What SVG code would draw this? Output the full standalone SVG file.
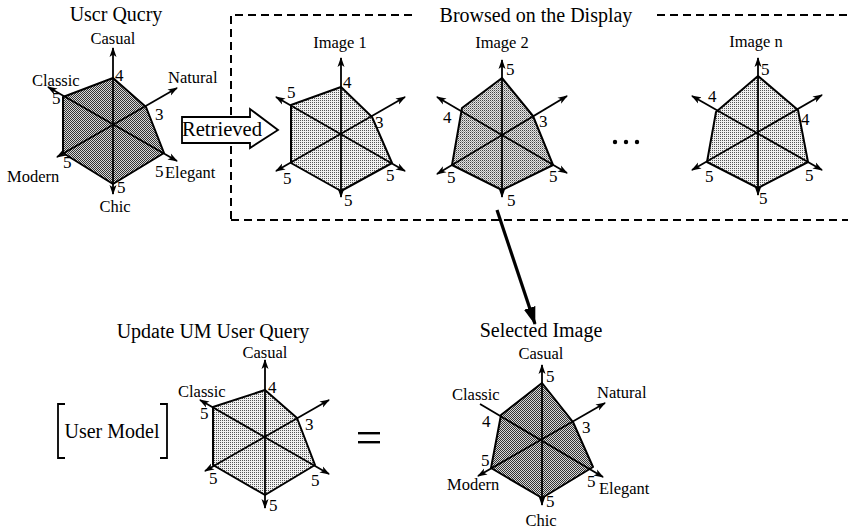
<svg xmlns="http://www.w3.org/2000/svg" width="848" height="531" viewBox="0 0 848 531" font-family="'Liberation Serif','DejaVu Serif','Times New Roman',serif">
<style>
text{font-family:'Liberation Serif','DejaVu Serif','Times New Roman',serif;fill:#000}
.t{font-size:20px}
.l{font-size:16.5px}
.n{font-size:17px}
.ax{stroke:#000;stroke-width:1.8;fill:none;marker-start:url(#ah);marker-end:url(#ah)}
.axe{stroke:#000;stroke-width:1.8;fill:none;marker-end:url(#ah)}
.pg{stroke:#000;stroke-width:2;stroke-linejoin:round}
.dk{fill:url(#pDark)}
.lt{fill:url(#pLight)}
.md{fill:url(#pMed)}
.dash{stroke:#000;stroke-width:2;stroke-dasharray:8 5;fill:none}
</style>
<defs>
<marker id="ah" markerUnits="userSpaceOnUse" markerWidth="10" markerHeight="8" refX="9" refY="4" orient="auto-start-reverse">
<path d="M0,0.5 L10,4 L0,7.5 L2.5,4 z" fill="#000"/>
</marker>
<marker id="bigah" markerUnits="userSpaceOnUse" markerWidth="18" markerHeight="14" refX="17" refY="7" orient="auto">
<path d="M0,1 L18,7 L0,13 z" fill="#000"/>
</marker>
<pattern id="pDark" width="2" height="2" patternUnits="userSpaceOnUse">
<rect width="2" height="2" fill="#d8d8d8"/>
<rect width="1" height="1" fill="#333"/>
<rect x="1" y="1" width="1" height="1" fill="#333"/>
</pattern>
<pattern id="pLight" width="2" height="2" patternUnits="userSpaceOnUse">
<rect width="2" height="2" fill="#f0f0f0"/>
<rect width="1" height="1" fill="#555"/>
</pattern>
<pattern id="pMed" width="2" height="2" patternUnits="userSpaceOnUse">
<rect width="2" height="2" fill="#e4e4e4"/>
<rect width="1" height="1" fill="#444"/>
<rect x="1" y="1" width="1" height="1" fill="#9a9a9a"/>
</pattern>
</defs>
<rect width="848" height="531" fill="#fff"/>

<g id="browse-box">
<path class="dash" d="M231,219 L231,15 L415,15"/>
<path class="dash" d="M657,15 L848,15"/>
<path class="dash" d="M231,220 L848,220"/>
<text class="t" x="536" y="22" text-anchor="middle">Browsed on the Display</text>
</g>

<g id="user-query">
<text class="t" x="116" y="21" text-anchor="middle">Uscr Qucry</text>
<polygon class="pg dk" points="113,78 146,107 164,153 113,184 63,153 63,97"/>
<line class="ax" x1="113" y1="48" x2="113" y2="194"/>
<line class="ax" x1="177" y1="88" x2="57" y2="157"/>
<line class="ax" x1="48" y1="87" x2="177" y2="161"/>
<text class="l" x="113" y="44" text-anchor="middle">Casual</text>
<text class="l" x="168" y="83">Natural</text>
<text class="l" x="32" y="86">Classic</text>
<text class="l" x="7" y="182">Modern</text>
<text class="l" x="165" y="178">Elegant</text>
<text class="l" x="115" y="212" text-anchor="middle">Chic</text>
<text class="n" x="115" y="81">4</text>
<text class="n" x="52" y="104">5</text>
<text class="n" x="155" y="120">3</text>
<text class="n" x="63" y="168">5</text>
<text class="n" x="155" y="177">5</text>
<text class="n" x="117" y="193">5</text>
</g>

<g id="retrieved">
<path d="M182,117 L250,117 L250,109 L278,130 L250,148 L250,143 L182,143 z" fill="#fff" stroke="#000" stroke-width="1.8" stroke-linejoin="miter"/>
<text class="t" x="182" y="136" textLength="80" lengthAdjust="spacingAndGlyphs">Retrieved</text>
</g>

<g id="image-1">
<text class="l" x="340" y="48" text-anchor="middle">Image 1</text>
<polygon class="pg lt" points="341,87 372,117 392,163 341,191 291,163 291,105"/>
<line class="ax" x1="341" y1="58" x2="341" y2="197"/>
<line class="ax" x1="405" y1="97" x2="276" y2="171"/>
<line class="ax" x1="276" y1="97" x2="405" y2="171"/>
<text class="n" x="343" y="88">4</text>
<text class="n" x="287" y="98">5</text>
<text class="n" x="375" y="128">3</text>
<text class="n" x="386" y="181">5</text>
<text class="n" x="283" y="184">5</text>
<text class="n" x="344" y="206">5</text>
</g>

<g id="image-2">
<text class="l" x="502" y="48" text-anchor="middle">Image 2</text>
<polygon class="pg md" points="502,78 533,116 553,165 502,190 452,165 462,108"/>
<line class="ax" x1="502" y1="60" x2="502" y2="197"/>
<line class="ax" x1="567" y1="96" x2="437" y2="174"/>
<line class="ax" x1="437" y1="97" x2="567" y2="173"/>
<text class="n" x="506" y="75">5</text>
<text class="n" x="443" y="123">4</text>
<text class="n" x="539" y="127">3</text>
<text class="n" x="549" y="182">5</text>
<text class="n" x="447" y="183">5</text>
<text class="n" x="507" y="206">5</text>
</g>

<g id="ellipsis">
<circle cx="615" cy="142" r="2.2"/>
<circle cx="626" cy="142" r="2.2"/>
<circle cx="637" cy="142" r="2.2"/>
</g>

<g id="image-n">
<text class="l" x="756" y="47" text-anchor="middle">Image n</text>
<polygon class="pg lt" points="758,76 798,110 808,162 758,188 707,162 716,112"/>
<line class="ax" x1="758" y1="58" x2="758" y2="195"/>
<line class="ax" x1="822" y1="95" x2="692" y2="170"/>
<line class="ax" x1="692" y1="96" x2="822" y2="170"/>
<text class="n" x="761" y="75">5</text>
<text class="n" x="708" y="102">4</text>
<text class="n" x="801" y="125">4</text>
<text class="n" x="805" y="181">5</text>
<text class="n" x="705" y="182">5</text>
<text class="n" x="759" y="204">5</text>
</g>

<g id="connectors">
<line x1="497" y1="210" x2="535" y2="324" stroke="#000" stroke-width="3.2" marker-end="url(#bigah)"/>
</g>

<g id="update-um">
<text class="t" x="213" y="338" text-anchor="middle">Update UM User Query</text>
<polygon class="pg lt" points="265,390 297,418 315,465 265,495 213,465 213,407"/>
<line class="ax" x1="265" y1="360" x2="265" y2="508"/>
<line class="ax" x1="329" y1="400" x2="205" y2="471"/>
<line class="ax" x1="200" y1="400" x2="329" y2="474"/>
<text class="l" x="265" y="358" text-anchor="middle">Casual</text>
<text class="l" x="178" y="397">Classic</text>
<text class="n" x="268" y="393">4</text>
<text class="n" x="200" y="419">5</text>
<text class="n" x="305" y="430">3</text>
<text class="n" x="311" y="486">5</text>
<text class="n" x="209" y="484">5</text>
<text class="n" x="269" y="511">5</text>
</g>

<g id="user-model">
<path d="M65,404 L58,404 L58,458 L65,458" fill="none" stroke="#000" stroke-width="1.8"/>
<path d="M160,404 L167,404 L167,458 L160,458" fill="none" stroke="#000" stroke-width="1.8"/>
<text class="t" x="112" y="438" text-anchor="middle">User Model</text>
</g>

<g id="equals">
<rect x="358" y="432" width="22" height="2.4" fill="#000"/>
<rect x="358" y="441" width="22" height="2.4" fill="#000"/>
</g>

<g id="selected-image">
<text class="t" x="541" y="337" text-anchor="middle">Selected Image</text>
<polygon class="pg dk" points="542,383 573,422 593,467 542,498 491,468 501,415"/>
<line class="ax" x1="542" y1="365" x2="542" y2="505"/>
<line class="ax" x1="605" y1="403" x2="478" y2="476"/>
<line class="axe" x1="480" y1="404" x2="603" y2="477"/>
<text class="l" x="541" y="359" text-anchor="middle">Casual</text>
<text class="l" x="452" y="400">Classic</text>
<text class="l" x="597" y="398">Natural</text>
<text class="l" x="447" y="490">Modern</text>
<text class="l" x="599" y="494">Elegant</text>
<text class="l" x="541" y="526" text-anchor="middle">Chic</text>
<text class="n" x="546" y="382">5</text>
<text class="n" x="482" y="427">4</text>
<text class="n" x="582" y="433">3</text>
<text class="n" x="481" y="466">5</text>
<text class="n" x="587" y="487">5</text>
<text class="n" x="546" y="507">5</text>
</g>
</svg>
